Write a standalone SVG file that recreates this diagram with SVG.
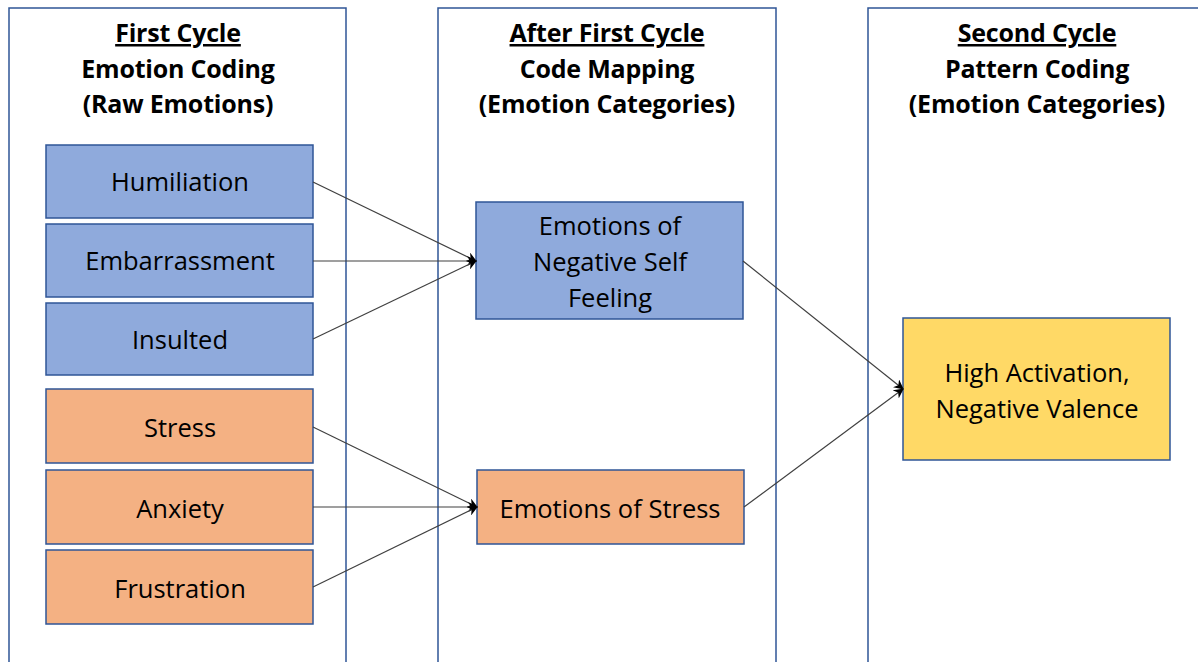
<svg xmlns="http://www.w3.org/2000/svg" width="1198" height="662" viewBox="0 0 1198 662">
<style>
.panel{fill:#fff;stroke:#2F5597;stroke-width:1.5}
.blue{fill:#8FAADC;stroke:#2F5597;stroke-width:1.5}
.orange{fill:#F4B183;stroke:#2F5597;stroke-width:1.5}
.yellow{fill:#FFD966;stroke:#2F5597;stroke-width:1.5}
.h{font-family:"Open Sans","Liberation Sans",sans-serif;font-weight:bold;font-size:25px;text-anchor:middle;fill:#000;letter-spacing:-0.2px}
.t{font-family:"Open Sans","Liberation Sans",sans-serif;font-size:25.5px;text-anchor:middle;fill:#000}
.c{stroke:#404040;stroke-width:1.2;fill:none;marker-end:url(#ah)}
</style>
<defs>
<marker id="ah" viewBox="0 0 10 10" refX="9" refY="5" markerWidth="10" markerHeight="10" markerUnits="userSpaceOnUse" orient="auto">
<path d="M0,0 L10,5 L0,10 L3,5 Z" fill="#000"/>
</marker>
</defs>
<g id="panel1"><rect class="panel" x="9" y="8" width="337" height="670"/>
<text class="h" x="178" y="42" text-decoration="underline">First Cycle</text>
<text class="h" x="178" y="78">Emotion Coding</text>
<text class="h" x="178" y="113">(Raw Emotions)</text></g>
<g id="panel2"><rect class="panel" x="438" y="8" width="338" height="670"/>
<text class="h" x="607" y="42" text-decoration="underline">After First Cycle</text>
<text class="h" x="607" y="78">Code Mapping</text>
<text class="h" x="607" y="113">(Emotion Categories)</text></g>
<g id="panel3"><rect class="panel" x="868" y="8" width="340" height="670"/>
<text class="h" x="1037" y="42" text-decoration="underline">Second Cycle</text>
<text class="h" x="1037" y="78">Pattern Coding</text>
<text class="h" x="1037" y="113">(Emotion Categories)</text></g>
<g id="humiliation"><rect class="blue" x="46" y="145" width="267" height="73"/><text class="t" x="180" y="191">Humiliation</text></g>
<g id="embarrassment"><rect class="blue" x="46" y="224" width="267" height="73"/><text class="t" x="180" y="270">Embarrassment</text></g>
<g id="insulted"><rect class="blue" x="46" y="303" width="267" height="72"/><text class="t" x="180" y="349">Insulted</text></g>
<g id="stress"><rect class="orange" x="46" y="389" width="267" height="74"/><text class="t" x="180" y="437">Stress</text></g>
<g id="anxiety"><rect class="orange" x="46" y="470" width="267" height="74"/><text class="t" x="180" y="518">Anxiety</text></g>
<g id="frustration"><rect class="orange" x="46" y="550" width="267" height="74"/><text class="t" x="180" y="598">Frustration</text></g>
<g id="negself"><rect class="blue" x="476" y="202" width="267" height="117"/>
<text class="t" x="610" y="235">Emotions of</text><text class="t" x="610" y="271">Negative Self</text><text class="t" x="610" y="307">Feeling</text></g>
<g id="emostress"><rect class="orange" x="477" y="470" width="267" height="74"/><text class="t" x="610" y="518">Emotions of Stress</text></g>
<g id="highact"><rect class="yellow" x="903" y="318" width="267" height="142"/>
<text class="t" x="1037" y="382">High Activation,</text><text class="t" x="1037" y="418">Negative Valence</text></g>
<g id="connectors">
<line class="c" x1="313" y1="182" x2="476" y2="261"/>
<line class="c" x1="313" y1="261" x2="476" y2="261"/>
<line class="c" x1="313" y1="339" x2="476" y2="261"/>
<line class="c" x1="313" y1="427" x2="477" y2="507"/>
<line class="c" x1="313" y1="507" x2="477" y2="507"/>
<line class="c" x1="313" y1="587" x2="477" y2="507"/>
<line class="c" x1="743" y1="261" x2="903" y2="389"/>
<line class="c" x1="744" y1="507" x2="903" y2="389"/>
</g>
</svg>
